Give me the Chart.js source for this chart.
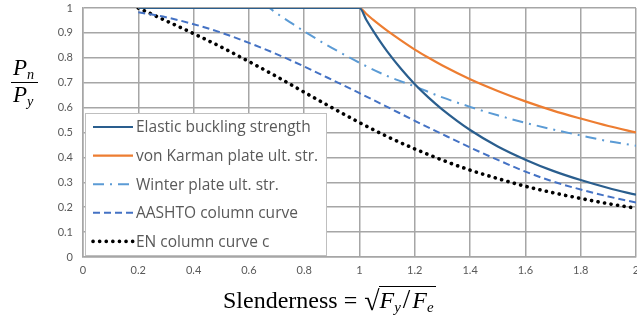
<!DOCTYPE html>
<html>
<head>
<meta charset="utf-8">
<script src="https://cdn.jsdelivr.net/npm/chart.js@4"></script>
<style>
  html, body { margin: 0; padding: 0; background: #ffffff; }
  #wrap { position: relative; width: 637px; height: 329px; overflow: hidden; }
  canvas { position: absolute; left: 0; top: 0; }
  .serif { font-family: "Liberation Serif", "DejaVu Serif", serif; color: #000; position: absolute; white-space: nowrap; }
  .it { font-style: italic; }
  sub { font-size: 62%; vertical-align: baseline; position: relative; top: 0.3em; }
</style>
</head>
<body>
<div id="wrap">
  <canvas id="c" width="637" height="329"></canvas>
  <!-- Y axis title: Pn / Py -->
  <div class="serif it" style="left:13px; top:55px; font-size:23px; line-height:26px;">P<sub>n</sub></div>
  <div style="position:absolute; left:11px; top:82px; width:27px; height:1px; background:#000;"></div>
  <div class="serif it" style="left:13px; top:82px; font-size:23px; line-height:26px;">P<sub>y</sub></div>
  <!-- X axis title -->
  <div class="serif" style="left:223px; top:285px; font-size:24px; line-height:28px;">Slenderness =
    <span style="font-size:28px; position:relative; top:2px; margin-left:1px;">√</span><span class="it" style="border-top:1px solid #000; padding:0 2px 0 1px; margin-left:-1px;">F<sub>y</sub><span style="font-style:normal; font-size:27px; margin:0 2px;">/</span>F<sub>e</sub></span>
  </div>
</div>
<script>
// ---- data ----
const lambdaMain = [0.2, 0.3, 0.4, 0.5, 0.6, 0.7, 0.8, 0.9, 1.0, 1.1, 1.2, 1.3, 1.4, 1.5, 1.6, 1.7, 1.8, 1.9, 2.0];
const lambdaPlate = [0.2, 1.0, 1.025, 1.05, 1.075, 1.1, 1.15, 1.2, 1.25, 1.3, 1.4, 1.5, 1.6, 1.7, 1.8, 1.9, 2.0];
const lambdaWinter = [0.2, 0.673, 0.69, 0.72, 0.76, 0.8, 0.9, 1.0, 1.1, 1.2, 1.3, 1.4, 1.5, 1.6, 1.7, 1.8, 1.9, 2.0];

const elasticValues   = [1, 1, 0.952, 0.907, 0.865, 0.826, 0.756, 0.694, 0.640, 0.592, 0.510, 0.444, 0.391, 0.346, 0.309, 0.277, 0.250];
const vonKarmanValues = [1, 1, 0.976, 0.952, 0.930, 0.909, 0.870, 0.833, 0.800, 0.769, 0.714, 0.667, 0.625, 0.588, 0.556, 0.526, 0.500];
const winterValues    = [1, 1.000, 0.987, 0.964, 0.935, 0.906, 0.840, 0.780, 0.727, 0.685, 0.641, 0.603, 0.569, 0.539, 0.512, 0.488, 0.465, 0.447];
const aashtoValues    = [0.983, 0.963, 0.935, 0.901, 0.860, 0.815, 0.765, 0.712, 0.658, 0.603, 0.547, 0.493, 0.440, 0.390, 0.343, 0.303, 0.271, 0.243, 0.219];
const enValues        = [1.000, 0.949, 0.897, 0.843, 0.785, 0.725, 0.662, 0.600, 0.540, 0.484, 0.434, 0.389, 0.349, 0.315, 0.284, 0.258, 0.235, 0.214, 0.196];

const seriesNames = ['Elastic buckling strength', 'von Karman plate ult. str.', 'Winter plate ult. str.', 'AASHTO column curve', 'EN column curve c'];
const xTickLabels = ['0', '0.2', '0.4', '0.6', '0.8', '1', '1.2', '1.4', '1.6', '1.8', '2'];
const yTickLabels = ['0', '0.1', '0.2', '0.3', '0.4', '0.5', '0.6', '0.7', '0.8', '0.9', '1'];

// ---- build ----
const pts = (xs, ys) => xs.map((x, i) => ({ x: x, y: ys[i] }));

const styles = [
  { color: '#2A5E8E', dash: [], width: 2.2, cap: 'butt' },
  { color: '#ED7D31', dash: [], width: 2.2, cap: 'butt' },
  { color: '#5B9BD5', dash: [11, 6, 2, 6], width: 2, cap: 'butt' },
  { color: '#4472C4', dash: [7, 4], width: 2, cap: 'butt' },
  { color: '#000000', dash: [0.1, 6.5], width: 3.6, cap: 'round' }
];

const datasets = [
  pts(lambdaPlate, elasticValues),
  pts(lambdaPlate, vonKarmanValues),
  pts(lambdaWinter, winterValues),
  pts(lambdaMain, aashtoValues),
  pts(lambdaMain, enValues)
].map((d, i) => ({
  label: seriesNames[i],
  data: d,
  borderColor: styles[i].color,
  backgroundColor: styles[i].color,
  borderWidth: styles[i].width,
  borderDash: styles[i].dash,
  borderCapStyle: styles[i].cap,
  pointRadius: 0,
  fill: false,
  cubicInterpolationMode: 'monotone',
  order: i
}));

const gridColor = '#a6a6a6';
const tickFont = { family: 'Lato, "Open Sans", sans-serif', size: 11 };

const legendPlugin = {
  id: 'boxLegend',
  afterDatasetsDraw(chart) {
    const ctx = chart.ctx;
    const ca = chart.chartArea;
    const bx = ca.left + 2, by = ca.top + 105, bw = 241, bh = 142;
    ctx.save();
    ctx.fillStyle = '#ffffff';
    ctx.fillRect(bx, by, bw, bh);
    ctx.strokeStyle = '#bfbfbf';
    ctx.lineWidth = 1;
    ctx.strokeRect(bx + 0.5, by + 0.5, bw, bh);
    ctx.font = '15.5px "Open Sans", Lato, sans-serif';
    ctx.textBaseline = 'middle';
    chart.data.datasets.forEach((ds, i) => {
      const y = by + 14 + i * 28.6;
      ctx.beginPath();
      ctx.strokeStyle = ds.borderColor;
      ctx.lineWidth = ds.borderWidth;
      ctx.lineCap = ds.borderCapStyle;
      ctx.setLineDash(ds.borderDash);
      ctx.moveTo(bx + 8, y);
      ctx.lineTo(bx + 48, y);
      ctx.stroke();
      ctx.setLineDash([]);
      ctx.fillStyle = '#595959';
      ctx.fillText(ds.label, bx + 51, y + 1);
    });
    ctx.restore();
  }
};

new Chart(document.getElementById('c'), {
  type: 'line',
  data: { datasets: datasets },
  plugins: [legendPlugin],
  options: {
    responsive: false,
    animation: false,
    devicePixelRatio: 1,
    layout: { autoPadding: false, padding: { top: 8, right: 1, left: 0, bottom: 0 } },
    plugins: { legend: { display: false }, tooltip: { enabled: false } },
    scales: {
      x: {
        type: 'linear', min: 0, max: 2,
        afterFit(s) { s.height = 72; s.paddingRight = 0; s.paddingLeft = 0; },
        ticks: { stepSize: 0.2, color: '#595959', font: tickFont, padding: 7, maxRotation: 0,
                 callback: (v, i) => xTickLabels[i] },
        grid: { color: gridColor, lineWidth: 1.5, drawTicks: false },
        border: { color: gridColor, width: 1.5 }
      },
      y: {
        type: 'linear', min: 0, max: 1,
        afterFit(s) { s.width = 83; s.paddingTop = 0; s.paddingBottom = 0; },
        ticks: { stepSize: 0.1, color: '#595959', font: tickFont, padding: 10,
                 callback: (v, i) => yTickLabels[i] },
        grid: { color: gridColor, lineWidth: 1.5, drawTicks: false },
        border: { color: gridColor, width: 1.5 }
      }
    }
  }
});
</script>
</body>
</html>
